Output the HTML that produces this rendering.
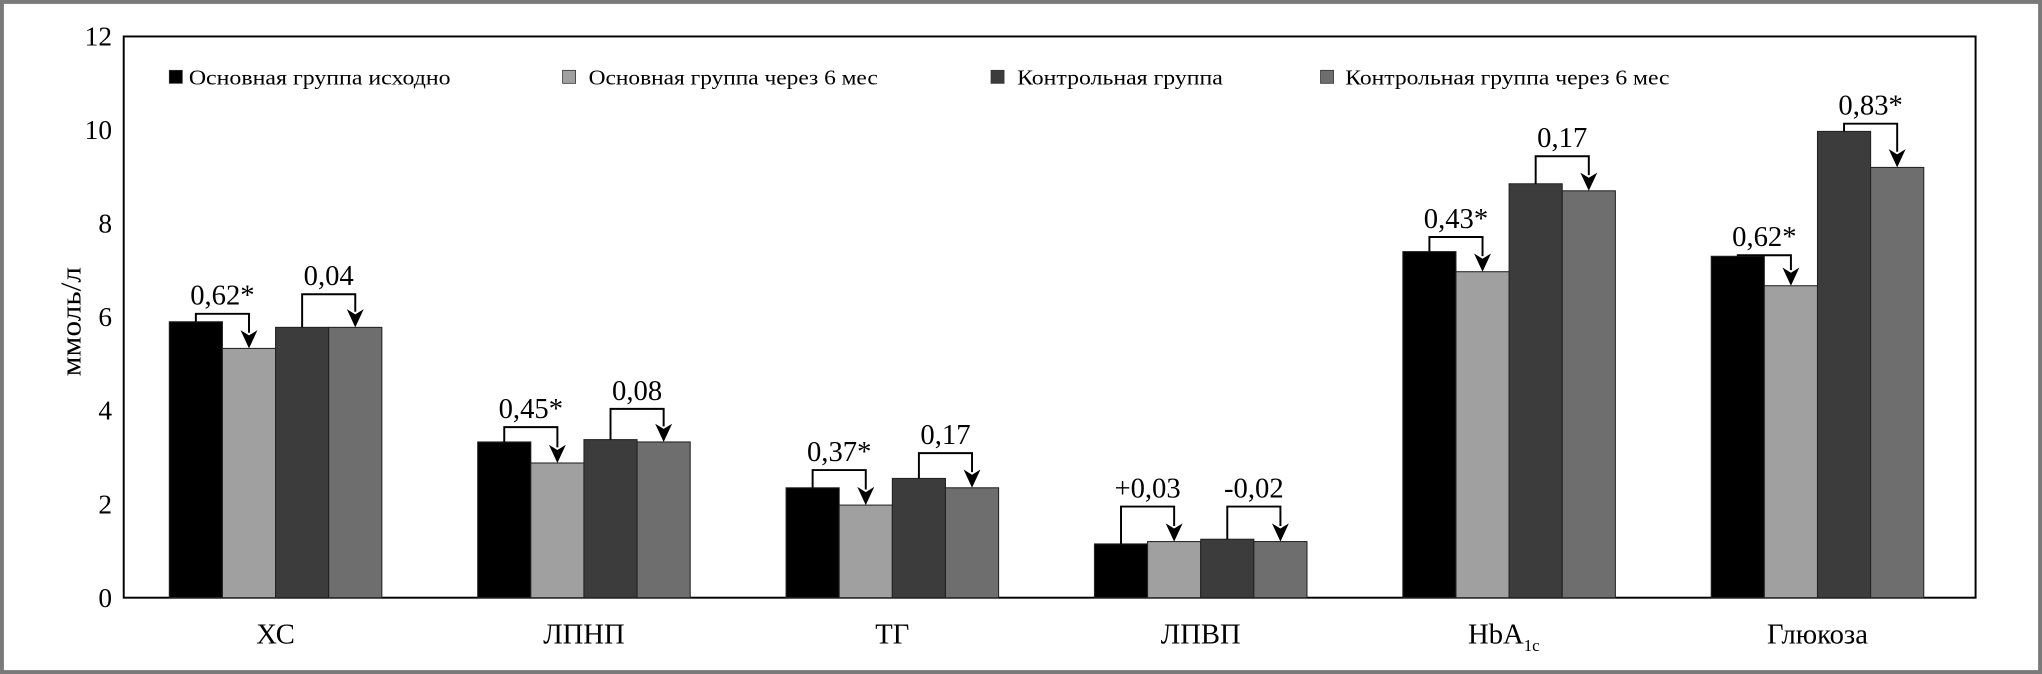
<!DOCTYPE html>
<html><head><meta charset="utf-8">
<style>
html,body{margin:0;padding:0;background:#fff;}
svg{display:block;}
text{font-family:"Liberation Serif",serif;fill:#000;}
</style></head>
<body>
<svg id="c" width="2042" height="674" viewBox="0 0 1568 517.6" preserveAspectRatio="none" xmlns="http://www.w3.org/2000/svg">
<rect x="1.5" y="1.5" width="1565" height="514.6" fill="#fff" stroke="#7a7a7a" stroke-width="3"/>
<rect x="95" y="28" width="1422" height="431" fill="#fff" stroke="#000" stroke-width="1.5"/>
<g id="g"></g>
<text x="0" y="0" font-size="22" text-anchor="middle" transform="translate(62,247) rotate(-90)" textLength="84" lengthAdjust="spacingAndGlyphs">ммоль/л</text>
<rect x="130" y="54" width="10" height="10" fill="#000" stroke="#333" stroke-width="0.6"/>
<text x="145" y="65" font-size="16" textLength="201" lengthAdjust="spacingAndGlyphs">Основная группа исходно</text>
<rect x="432" y="54" width="10" height="10" fill="#a0a0a0" stroke="#333" stroke-width="0.6"/>
<text x="452" y="65" font-size="16" textLength="222" lengthAdjust="spacingAndGlyphs">Основная группа через 6 мес</text>
<rect x="761" y="54" width="10" height="10" fill="#3c3c3c" stroke="#333" stroke-width="0.6"/>
<text x="781" y="65" font-size="16" textLength="158" lengthAdjust="spacingAndGlyphs">Контрольная группа</text>
<rect x="1014" y="54" width="10" height="10" fill="#6e6e6e" stroke="#333" stroke-width="0.6"/>
<text x="1033" y="65" font-size="16" textLength="249" lengthAdjust="spacingAndGlyphs">Контрольная группа через 6 мес</text>
</svg>
<script>
var g=document.getElementById('g'),s='';
var y0=459,k=431/12;
for(var i=0;i<=12;i+=2){s+='<text x="86" y="'+(y0-i*k+7)+'" font-size="21" text-anchor="end">'+i+'</text>';}
var cols=['#000','#a0a0a0','#3c3c3c','#6e6e6e'];
var data=[[5.9,5.33,5.78,5.78],[3.33,2.88,3.38,3.33],[2.35,1.98,2.55,2.35],[1.15,1.2,1.25,1.2],[7.4,6.97,8.85,8.7],[7.3,6.67,9.97,9.2]];
var names=['ХС','ЛПНП','ТГ','ЛПВП','HbA','Глюкоза'];
var ann=[[[241,'0,62*'],[226,'0,04']],[[328,'0,45*'],[314,'0,08']],[[361,'0,37*'],[348,'0,17']],[[389,'+0,03'],[389,'-0,02']],[[182,'0,43*'],[120,'0,17']],[[196,'0,62*'],[95,'0,83*']]];
var bw=40.8;
for(var j=0;j<6;j++){
 var x0=130+236.8*j,c=x0+2*bw;
 for(var b=0;b<4;b++){var h=data[j][b]*k;
  s+='<rect x="'+(x0+b*bw)+'" y="'+(y0-h)+'" width="'+bw+'" height="'+h+'" fill="'+cols[b]+'" stroke="#222" stroke-width="0.8"/>';}
 for(var p=0;p<2;p++){
  var xa=x0+(2*p)*bw+bw/2,xb=xa+bw,by=ann[j][p][0];
  var ta=y0-data[j][2*p]*k,tb=y0-data[j][2*p+1]*k;
  s+='<polyline points="'+xa+','+ta+' '+xa+','+by+' '+xb+','+by+' '+xb+','+(tb-12)+'" fill="none" stroke="#000" stroke-width="1.5"/>';
  s+='<polygon points="'+(xb-6.5)+','+(tb-14)+' '+xb+','+(tb-10)+' '+(xb+6.5)+','+(tb-14)+' '+xb+','+tb+'" fill="#000"/>';
  s+='<text x="'+((xa+xb)/2)+'" y="'+(by-7)+'" font-size="22" text-anchor="middle">'+ann[j][p][1]+'</text>';
 }
 if(j==4){s+='<text x="'+(c-4)+'" y="494" font-size="22" text-anchor="middle">HbA<tspan font-size="13" dy="6">1c</tspan></text>';}
 else s+='<text x="'+c+'" y="494" font-size="22" text-anchor="middle">'+names[j]+'</text>';
}
g.innerHTML=s;
</script>
</body></html>
